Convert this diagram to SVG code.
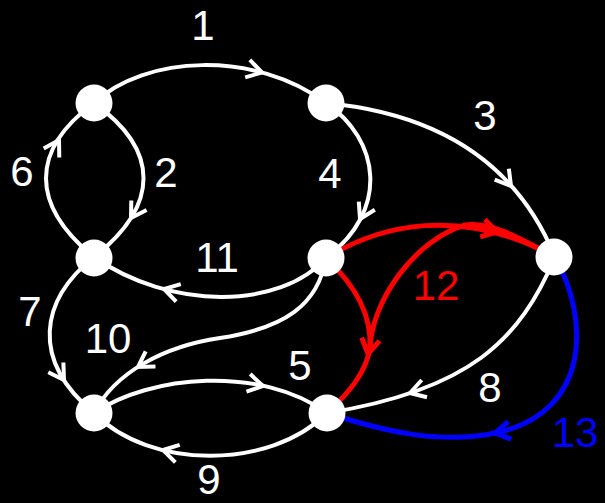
<svg xmlns="http://www.w3.org/2000/svg" width="605" height="503" viewBox="0 0 605 503">
  <style>
    .e { fill: none; stroke: #fff; stroke-width: 4; }
    .r { fill: none; stroke: #ff0000; stroke-width: 5; }
    .b { fill: none; stroke: #0000ff; stroke-width: 5; }
    .aw { stroke: #fff; stroke-width: 4; }
    .ar { stroke: #ff0000; stroke-width: 5; }
    .ab { stroke: #0000ff; stroke-width: 5; }
    .n { fill: #fff; }
    text { font-family: "Liberation Sans", Arial, sans-serif; font-size: 42px; text-anchor: middle; }
    .tw { fill: #fff; }
    .tr { fill: #ff0000; }
    .tb { fill: #0000ff; }
  </style>
  <defs>
    <path id="ah" d="M-15,-9 L0,0 L-15,9" fill="none" stroke-linejoin="miter"/>
  </defs>
  <rect x="0" y="0" width="605" height="503" fill="#000"/>

  <g id="connectors">
    <!-- 1: A -> B -->
    <path class="e" d="M94,103 C145,55 255,50 326,103"/>
    <use href="#ah" class="aw" transform="translate(262,72.5) rotate(15)"/>
    <!-- 2: A -> C -->
    <path class="e" d="M94,103 C160,150 160,205 94,257"/>
    <use href="#ah" class="aw" transform="translate(131,218) rotate(122)"/>
    <!-- 6: C -> A -->
    <path class="e" d="M94,257 C30,205 30,150 94,103"/>
    <use href="#ah" class="aw" transform="translate(59,140) rotate(-60)"/>
    <!-- 3: B -> E -->
    <path class="e" d="M326,103 C442,114 518,166 555,257"/>
    <use href="#ah" class="aw" transform="translate(511,186) rotate(52)"/>
    <!-- 4: B -> D -->
    <path class="e" d="M326,103 C380,140 390,210 326,258"/>
    <use href="#ah" class="aw" transform="translate(360,219) rotate(117)"/>
    <!-- 11: D -> C -->
    <path class="e" d="M326,258 C280,310 170,310 94,257"/>
    <use href="#ah" class="aw" transform="translate(164,289) rotate(195)"/>
    <!-- 10: D -> F -->
    <path class="e" d="M326,258 C318,305 285,328 220,338 C165,346 115,372 94,413"/>
    <use href="#ah" class="aw" transform="translate(138,367) rotate(147)"/>
    <!-- 7: C -> F -->
    <path class="e" d="M94,257 C40,300 30,360 94,413"/>
    <use href="#ah" class="aw" transform="translate(64,380) rotate(57)"/>
    <!-- 5: F -> G -->
    <path class="e" d="M94,413 C150,375 260,365 327,413"/>
    <use href="#ah" class="aw" transform="translate(263,386) rotate(12)"/>
    <!-- 9: G -> F -->
    <path class="e" d="M327,413 C270,470 150,470 94,413"/>
    <use href="#ah" class="aw" transform="translate(163,450) rotate(194)"/>
    <!-- 8: E -> G -->
    <path class="e" d="M555,257 C520,340 470,390 327,413"/>
    <use href="#ah" class="aw" transform="translate(410,393) rotate(163)"/>
    <!-- 13: E -> G (blue) -->
    <path class="b" d="M555,257 C590,320 590,410 500,432 C440,446 380,430 327,413"/>
    <use href="#ah" class="ab" transform="translate(495,433) rotate(170)"/>
    <!-- 12: red -->
    <path class="r" d="M326,258 C380,225 460,205 555,257"/>
    <use href="#ah" class="ar" transform="translate(497,232) rotate(15)"/>
    <path class="r" d="M555,257 C520,238 490,221 465,225 C415,240 372,300 370,348"/>
    <path class="r" d="M326,258 C355,285 372,315 370,348 C366,372 350,392 327,413"/>
    <use href="#ah" class="ar" transform="translate(368,354) rotate(100)"/>
  </g>

  <g id="nodeA"><circle class="n" cx="94" cy="103" r="18.5"/></g>
  <g id="nodeB"><circle class="n" cx="326" cy="103" r="18.5"/></g>
  <g id="nodeC"><circle class="n" cx="94" cy="258" r="18.5"/></g>
  <g id="nodeD"><circle class="n" cx="326" cy="258" r="18.5"/></g>
  <g id="nodeE"><circle class="n" cx="554" cy="257" r="18.5"/></g>
  <g id="nodeF"><circle class="n" cx="94" cy="413" r="18.5"/></g>
  <g id="nodeG"><circle class="n" cx="327" cy="413" r="18.5"/></g>

  <g id="labels">
    <text class="tw" x="203" y="40">1</text>
    <text class="tw" x="166" y="187">2</text>
    <text class="tw" x="485" y="130">3</text>
    <text class="tw" x="330" y="188">4</text>
    <text class="tw" x="300" y="380">5</text>
    <text class="tw" x="22" y="186">6</text>
    <text class="tw" x="30" y="326">7</text>
    <text class="tw" x="490" y="402">8</text>
    <text class="tw" x="209" y="494">9</text>
    <text class="tw" x="108" y="353">10</text>
    <text class="tw" x="217" y="272">11</text>
    <text class="tr" x="436" y="300">12</text>
    <text class="tb" x="575" y="447">13</text>
  </g>
</svg>
